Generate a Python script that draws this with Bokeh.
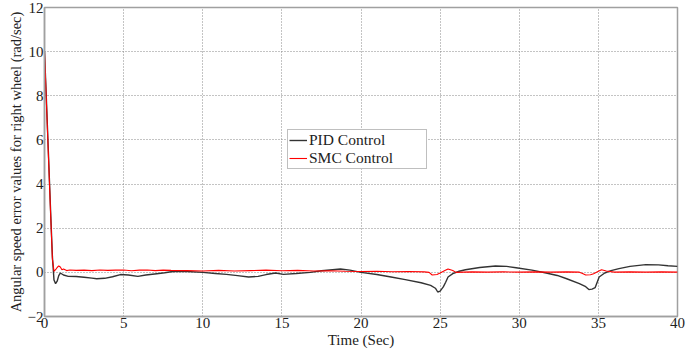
from bokeh.plotting import figure
from bokeh.embed import file_html
from bokeh.resources import INLINE
from bokeh.models import Legend, LegendItem, FixedTicker

# Time (Sec) and PID control error values
t_pid = [0, 0.1, 0.2, 0.3, 0.4, 0.5, 0.6, 0.7, 0.8, 0.9, 1.0, 1.2, 1.5, 2.0, 2.5, 3.0, 3.3, 3.8,
         4.3, 4.8, 5.3, 5.9, 6.4, 7.1, 7.6, 8.0, 8.5, 9.0, 10.0, 10.8, 11.5, 12.2, 12.9, 13.5, 14.0,
         14.6, 15.1, 15.9, 16.8, 17.5, 18.2, 18.7, 19.3, 20.0, 21.0, 21.9, 22.8, 23.8, 24.4, 24.7,
         24.85, 25.0, 25.2, 25.35, 25.5, 25.8, 26.2, 26.6, 27.5, 28.5, 29.2, 29.8, 30.8, 31.7, 32.4,
         33.0, 33.8, 34.2, 34.4, 34.6, 34.8, 35.05, 35.4, 35.8, 36.3, 37.0, 38.0, 38.8, 39.4, 40.0]
pid = [10.0, 8.2, 6.3, 4.4, 2.5, 0.7, -0.35, -0.51, -0.4, -0.15, -0.03, -0.12, -0.18, -0.19,
       -0.22, -0.26, -0.29, -0.27, -0.2, -0.1, -0.12, -0.18, -0.12, -0.06, -0.02, 0.03, 0.05, 0.04,
       0.0, -0.05, -0.09, -0.15, -0.21, -0.18, -0.1, -0.03, -0.09, -0.05, 0.0, 0.07, 0.12, 0.15,
       0.1, 0.0, -0.1, -0.21, -0.33, -0.47, -0.59, -0.72, -0.89, -0.85, -0.66, -0.45, -0.21, -0.06,
       0.05, 0.12, 0.22, 0.29, 0.27, 0.21, 0.1, -0.03, -0.14, -0.29, -0.51, -0.65, -0.78, -0.76,
       -0.69, -0.21, -0.03, 0.08, 0.17, 0.27, 0.35, 0.34, 0.3, 0.27]

# Time (Sec) and SMC control error values
t_smc = [0, 0.1, 0.2, 0.3, 0.4, 0.5, 0.6, 0.7, 0.8, 0.9, 1.0, 1.1, 1.2, 1.4, 1.6, 2.0, 2.5, 3.0,
         3.5, 4.0, 4.5, 5.0, 5.5, 6.0, 6.5, 7.0, 7.5, 8.0, 9.0, 10.0, 11.0, 12.0, 13.0, 14.0, 15.0,
         16.0, 17.0, 18.0, 19.0, 20.0, 21.0, 22.0, 23.0, 24.0, 24.3, 24.5, 24.8, 25.0, 25.3, 25.5,
         25.8, 26.0, 27.0, 28.0, 29.0, 30.0, 31.0, 32.0, 33.0, 33.8, 34.0, 34.2, 34.5, 34.7, 35.0,
         35.2, 35.5, 36.0, 37.0, 38.0, 39.0, 40.0]
smc = [10.0, 8.1, 6.2, 4.3, 2.4, 0.6, 0.05, 0.12, 0.22, 0.29, 0.24, 0.12, 0.15, 0.08, 0.11, 0.09,
       0.1, 0.08, 0.11, 0.09, 0.1, 0.11, 0.07, 0.1, 0.11, 0.08, 0.1, 0.09, 0.08, 0.06, 0.09, 0.06,
       0.08, 0.1, 0.07, 0.09, 0.06, 0.07, 0.05, 0.04, 0.05, 0.03, 0.04, 0.02, 0.0, -0.12, -0.1,
       -0.03, 0.08, 0.15, 0.08, 0.0, 0.02, 0.01, 0.02, 0.01, 0.02, 0.01, 0.02, 0.01, -0.05, -0.12,
       -0.11, -0.06, 0.05, 0.12, 0.06, 0.01, 0.02, 0.01, 0.02, 0.01]

x_ticks = [0, 5, 10, 15, 20, 25, 30, 35, 40]
y_ticks = [-2, 0, 2, 4, 6, 8, 10, 12]

FONT = "'Liberation Serif', 'Times New Roman', serif"

p = figure(width=695, height=351, output_backend="svg", toolbar_location=None,
           x_range=(0, 40), y_range=(-2, 12),
           min_border_left=44, min_border_right=18, min_border_top=7, min_border_bottom=35)
p.background_fill_color = "white"
p.border_fill_color = "white"
p.outline_line_color = "#a0a0a0"
p.outline_line_width = 1.5

r_pid = p.line(t_pid, pid, line_color="#333333", line_width=1.4)
r_smc = p.line(t_smc, smc, line_color="#ff0000", line_width=1.1)

p.xaxis.ticker = FixedTicker(ticks=x_ticks)
p.yaxis.ticker = FixedTicker(ticks=y_ticks)
for ax in (p.xaxis[0], p.yaxis[0]):
    ax.axis_line_color = "#a0a0a0"
    ax.axis_line_width = 1.5
    ax.major_tick_in = 0
    ax.major_tick_out = 0
    ax.minor_tick_in = 0
    ax.minor_tick_out = 0
    ax.major_label_text_font = FONT
    ax.major_label_text_font_size = "15px"
    ax.major_label_text_color = "#222222"
    ax.axis_label_text_font = FONT
    ax.axis_label_text_font_style = "normal"
    ax.axis_label_text_color = "#222222"
    ax.major_label_standoff = 1
    ax.axis_label_standoff = 1

p.xaxis.axis_label = "Time (Sec)"
p.xaxis.axis_label_text_font_size = "15px"
p.yaxis.axis_label = "Angular speed error values for right wheel (rad/sec)"
p.yaxis.axis_label_text_font_size = "14.5px"

p.grid.grid_line_color = "#888888"
p.grid.grid_line_dash = "1 2"
p.grid.grid_line_width = 1

legend = Legend(items=[LegendItem(label="PID Control", renderers=[r_pid]),
                       LegendItem(label="SMC Control", renderers=[r_smc])],
                location=(243, 147))
legend.label_text_font = FONT
legend.label_text_font_size = "15.5px"
legend.label_text_color = "#222222"
legend.border_line_color = "#808080"
legend.border_line_width = 1.2
legend.background_fill_color = "white"
legend.background_fill_alpha = 1.0
legend.glyph_width = 18
legend.glyph_height = 12
legend.label_height = 12
legend.label_width = 116
legend.spacing = -5
legend.padding = 1
legend.margin = 0
legend.label_standoff = 2
p.add_layout(legend)

open("out.html", "w").write(file_html(p, INLINE))
